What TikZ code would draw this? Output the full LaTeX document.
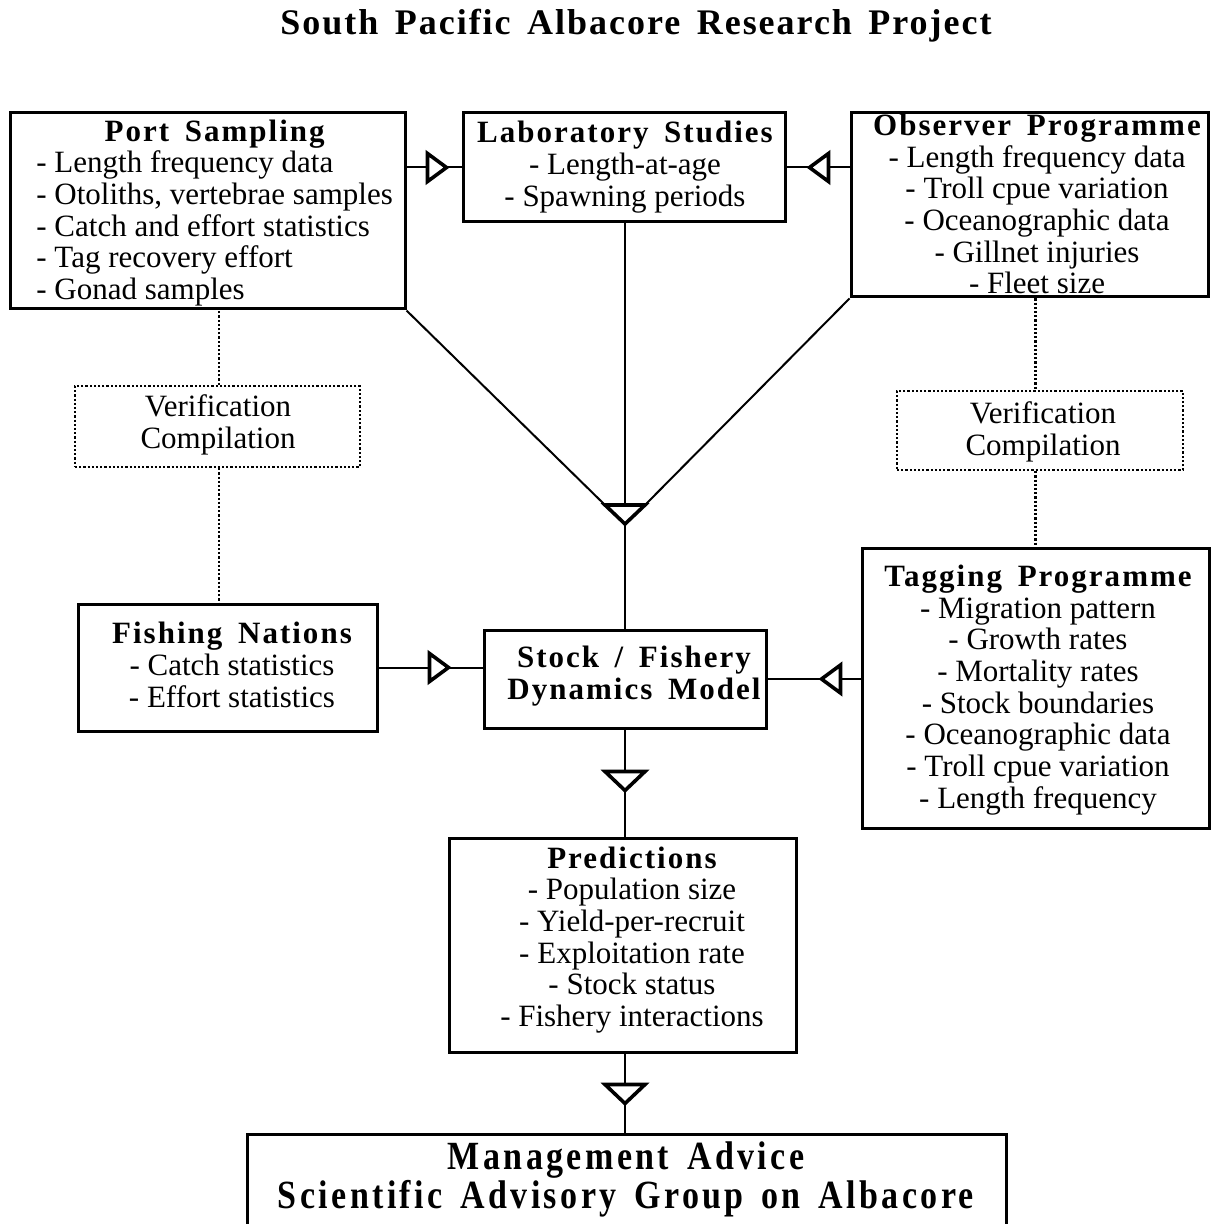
\documentclass[tikz,border=0pt]{standalone}
\usepackage{fontspec}
\usetikzlibrary{fit,calc}
\setmainfont{Liberation Serif}
\newfontfamily\hdf[LetterSpace=6.5,WordSpace=1.6]{Liberation Serif}
\newfontfamily\ttlf[LetterSpace=5.5,WordSpace=1.5]{Liberation Serif}
\newfontfamily\mgf[LetterSpace=10,WordSpace=1.5]{Liberation Serif}
\newcommand{\bodysz}{\fontsize{15.5}{15.85}\selectfont}
\newcommand{\hd}[1]{{\hdf\bfseries #1}}
\begin{document}
\begin{tikzpicture}[x=0.5pt,y=-0.5pt,
  box/.style={draw, line width=1.5pt, inner sep=0pt},
  vbox/.style={draw, densely dotted, line width=1.1pt, inner sep=0pt},
  conn/.style={line width=1pt},
  dconn/.style={densely dotted, line width=1.1pt},
  txt/.style={inner sep=0pt, align=center, font=\bodysz},
  trline/.style={line width=1.8pt, fill=white, line join=miter},
  triR/.pic={\draw[trline] (0,0) -- (-19,-14) -- (-19,14) -- cycle;},
  triD/.pic={\draw[trline] (-20,0) -- (20,0) -- (0,19) -- cycle;}]
\useasboundingbox (0,0) rectangle (1216,1224);
\clip (0,0) rectangle (1216,1224);

% title
\node[inner sep=0pt, font={\fontsize{18}{20}\selectfont\ttlf\bfseries}] (title) at (636,26) {South Pacific Albacore Research Project};

% boxes
\node[box, fit={(10,113)(405,309)}] (port) {};
\node[box, fit={(463,113)(785,222)}] (lab) {};
\node[box, fit={(851,113)(1208,297)}] (obs) {};
\node[vbox, fit={(75,386)(360,467)}] (ver1) {};
\node[vbox, fit={(897,391)(1183,470)}] (ver2) {};
\node[box, fit={(78,604)(377,731)}] (fish) {};
\node[box, fit={(484,630)(766,728)}] (stock) {};
\node[box, fit={(862,548)(1209,828)}] (tag) {};
\node[box, fit={(449,838)(796,1052)}] (pred) {};
\node[box, fit={(247,1134)(1006,1270)}] (mgmt) {};

% texts
\node[txt, anchor=west] (port-t) at (36,214) {\begin{tabular}{@{}l@{}}\multicolumn{1}{@{}c@{}}{\hd{Port Sampling}}\\
- Length frequency data\\ - Otoliths, vertebrae samples\\ - Catch and effort statistics\\ - Tag recovery effort\\ - Gonad samples\end{tabular}};
\node[txt] (lab-t) at (625,167) {\hd{Laboratory Studies}\\ - Length-at-age\\ - Spawning periods};
\node[txt] (obs-t) at (1037,204) {\hd{Observer Programme}\\ - Length frequency data\\ - Troll cpue variation\\ - Oceanographic data\\ - Gillnet injuries\\ - Fleet size};
\node[txt] (ver1-t) at (218,425) {Verification\\ Compilation};
\node[txt] (ver2-t) at (1043,432) {Verification\\ Compilation};
\node[txt] (fish-t) at (232,665) {\hd{Fishing Nations}\\ - Catch statistics\\ - Effort statistics};
\node[txt] (stock-t) at (634,676) {\hd{Stock / Fishery}\\ \hd{Dynamics Model}};
\node[txt] (tag-t) at (1038,690) {\hd{Tagging Programme}\\ - Migration pattern\\ - Growth rates\\ - Mortality rates\\ - Stock boundaries\\ - Oceanographic data\\ - Troll cpue variation\\ - Length frequency};
\node[txt] (pred-t) at (632,940) {\hd{Predictions}\\ - Population size\\ - Yield-per-recruit\\ - Exploitation rate\\ - Stock status\\ - Fishery interactions};
\node[inner sep=0pt, align=center, font={\fontsize{20}{19.5}\selectfont\mgf\bfseries}] (mgmt-t) at (626,1179) {\scalebox{0.85}[1]{Management Advice}\\ \scalebox{0.85}[1]{Scientific Advisory Group on Albacore}};

% connectors
\draw[conn] (port.east |- lab.west) -- (lab.west);
\pic at ($(lab.west)+(-15,0)$) {triR};
\draw[conn] (obs.west |- lab.east) -- (lab.east);
\pic[rotate=180] at ($(lab.east)+(23,0)$) {triR};

\coordinate (hub) at (625,505);
\draw[conn] (port.south east) -- ($(hub)+(-20,0)$);
\draw[conn] (obs.south west) -- ($(hub)+(20,0)$);
\draw[conn] (lab.south -| hub) -- (hub);
\draw[conn] (hub) -- (stock.north -| hub);
\pic at (hub) {triD};

\draw[conn] (fish.east) -- (stock.west |- fish.east);
\pic at ($(stock.west |- fish.east)+(-34,0)$) {triR};
\draw[conn] (tag.west |- stock.east) -- (stock.east);
\pic[rotate=180] at ($(stock.east)+(54,0)$) {triR};

\draw[conn] (stock.south) -- (stock.south |- pred.north);
\pic at ($(stock.south)+(0,42)$) {triD};
\draw[conn] (stock.south |- pred.south) -- (stock.south |- mgmt.north);
\pic at ($(stock.south |- pred.south)+(0,31)$) {triD};

\draw[dconn] (ver1.north -| 219,0) -- (port.south -| 219,0);
\draw[dconn] (ver1.south -| 219,0) -- (fish.north -| 219,0);
\draw[dconn] (tag.north |- obs.south) -- (tag.north |- ver2.north);
\draw[dconn] (tag.north |- ver2.south) -- (tag.north);
\end{tikzpicture}
\end{document}
